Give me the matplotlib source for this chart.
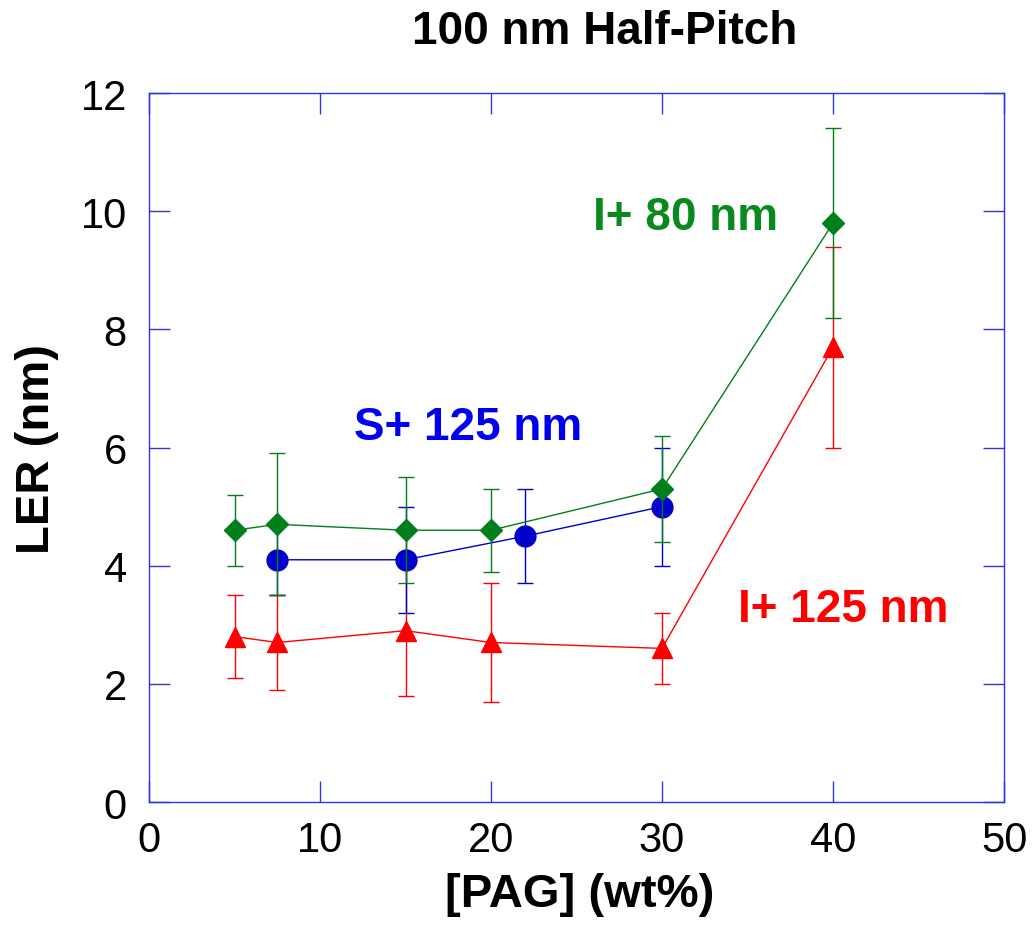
import matplotlib
matplotlib.use("Agg")
import matplotlib.pyplot as plt

plt.rcParams['font.family'] = ['Liberation Sans', 'DejaVu Sans']

# I+ 80 nm
x_i80 = [5, 7.5, 15, 20, 30, 40]
y_i80 = [4.6, 4.7, 4.6, 4.6, 5.3, 9.8]
e_i80 = [0.6, 1.2, 0.9, 0.7, 0.9, 1.6]

# S+ 125 nm
x_s125 = [7.5, 15, 22, 30]
y_s125 = [4.1, 4.1, 4.5, 5.0]
e_s125 = [0.6, 0.9, 0.8, 1.0]

# I+ 125 nm
x_i125 = [5, 7.5, 15, 20, 30, 40]
y_i125 = [2.8, 2.7, 2.9, 2.7, 2.6, 7.7]
e_i125 = [0.7, 0.8, 1.1, 1.0, 0.6, 1.7]

xticks = [0, 10, 20, 30, 40, 50]
yticks = [0, 2, 4, 6, 8, 10, 12]

fig = plt.figure(figsize=(10.32, 9.29), dpi=100)
ax = fig.add_axes([0.1444, 0.1356, 0.8285, 0.7632])

green = '#007f1a'
blue = '#0000cc'
red = '#ff0000'

ax.errorbar(x_i125, y_i125, yerr=e_i125, color=red, marker='^', markersize=14,
            lw=1, elinewidth=1, capsize=6, capthick=1, zorder=3)
ax.errorbar(x_s125, y_s125, yerr=e_s125, color=blue, marker='o', markersize=15,
            lw=1, elinewidth=1, capsize=6, capthick=1, zorder=4)
ax.errorbar(x_i80, y_i80, yerr=e_i80, color=green, marker='D', markersize=11,
            lw=1, elinewidth=1, capsize=6, capthick=1, zorder=5)

ax.text(25.96, 9.9, 'I+ 80 nm', color='#0a8a1e', fontsize=33,
        fontweight='bold', va='center')
ax.text(11.99, 6.35, 'S+ 125 nm', color='#0000ee', fontsize=33,
        fontweight='bold', va='center')
ax.text(34.45, 3.27, 'I+ 125 nm', color=red, fontsize=33,
        fontweight='bold', va='center')

ax.set_xlim(0, 50)
ax.set_ylim(0, 12)
ax.set_xticks(xticks)
ax.set_yticks(yticks)
ax.tick_params(direction='in', length=15, width=1, color='#3333dd',
               top=True, right=True, labelsize=30)
ax.tick_params(axis='x', pad=13)
ax.tick_params(axis='y', pad=16)
for s in ax.spines.values():
    s.set_color('#3333dd')
    s.set_linewidth(1)

ax.set_xlabel('[PAG] (wt%)', fontsize=34, fontweight='bold', va='center')
ax.xaxis.set_label_coords(0.504, -0.13)
ax.set_ylabel('LER (nm)', fontsize=34, fontweight='bold', va='center')
ax.yaxis.set_label_coords(-0.131, 0.5)
fig.text(0.586, 1 - 32 / 929, '100 nm Half-Pitch', fontsize=33,
         fontweight='bold', ha='center', va='center')

fig.savefig('out.png', dpi=100)
